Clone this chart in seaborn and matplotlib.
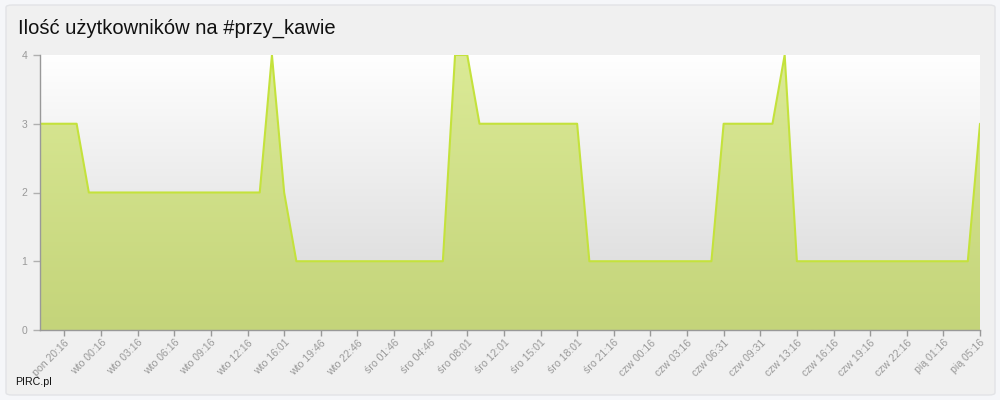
import numpy as np
import pandas as pd
import matplotlib
matplotlib.use("Agg")
import matplotlib.pyplot as plt
import seaborn as sns
from matplotlib.patches import FancyBboxPatch
from matplotlib.colors import LinearSegmentedColormap

# ---- data (hourly samples) ----
users = [3, 3, 3, 3,
         2, 2, 2, 2, 2, 2, 2, 2, 2, 2, 2, 2, 2, 2, 2,
         4, 2,
         1, 1, 1, 1, 1, 1, 1, 1, 1, 1, 1, 1, 1,
         4, 4,
         3, 3, 3, 3, 3, 3, 3, 3, 3,
         1, 1, 1, 1, 1, 1, 1, 1, 1, 1, 1,
         3, 3, 3, 3, 3,
         4,
         1, 1, 1, 1, 1, 1, 1, 1, 1, 1, 1, 1, 1, 1, 1,
         3]

tick_labels = ["pon 20:16", "wto 00:16", "wto 03:16", "wto 06:16", "wto 09:16",
               "wto 12:16", "wto 16:01", "wto 19:46", "wto 22:46", "śro 01:46",
               "śro 04:46", "śro 08:01", "śro 12:01", "śro 15:01", "śro 18:01",
               "śro 21:16", "czw 00:16", "czw 03:16", "czw 06:31", "czw 09:31",
               "czw 13:16", "czw 16:16", "czw 19:16", "czw 22:16", "pią 01:16",
               "pią 05:16"]
first_tick = 2
tick_step = 3
y_ticks = [0, 1, 2, 3, 4]

title = "Ilość użytkowników na #przy_kawie"
credit = "PIRC.pl"

df = pd.DataFrame({"sample": np.arange(len(users)), "users": users})
tick_pos = list(range(first_tick, len(users), tick_step))

# ---- style ----
sns.set_style("white")
plt.rcParams["font.family"] = ["Liberation Sans", "DejaVu Sans"]

LINE = "#c4e23c"
GRAY = "#999999"

fig = plt.figure(figsize=(10, 4), dpi=100)
fig.patch.set_facecolor("#f5f6f9")

panel = FancyBboxPatch((6 / 1000, 5 / 400), 989 / 1000, 390 / 400,
                       boxstyle="round,pad=0,rounding_size=0.006",
                       transform=fig.transFigure, facecolor="#f0f0f0",
                       edgecolor="#e2e3e6", linewidth=1.0, zorder=-10)
fig.patches.append(panel)

ax = fig.add_axes([0.040, 0.175, 0.940, 0.6875])
ax.set_zorder(1)
ax.set_facecolor("none")

# plot-area gradient background
bg = LinearSegmentedColormap.from_list("bg", ["#d6d6d6", "#ffffff"])
grad = np.linspace(0, 1, 256).reshape(-1, 1)
ax.imshow(grad, cmap=bg, origin="lower", aspect="auto",
          extent=[0, 1, 0, 1], transform=ax.transAxes, zorder=0)

# area fill with gradient, clipped to the data polygon
poly = ax.fill_between(df["sample"], df["users"], 0,
                       facecolor="none", edgecolor="none")
fillcm = LinearSegmentedColormap.from_list("fill", ["#c4d47a", "#dbea96"])
x0, x1 = df["sample"].min(), df["sample"].max()
im = ax.imshow(grad, cmap=fillcm, origin="lower", aspect="auto",
               extent=[x0, x1, 0, max(y_ticks)], zorder=1)
im.set_clip_path(poly.get_paths()[0], transform=ax.transData)

sns.lineplot(data=df, x="sample", y="users", ax=ax, color=LINE,
             linewidth=1.5, zorder=3)

ax.set_xlim(x0, x1)
ax.set_ylim(0, max(y_ticks))
ax.set_xlabel("")
ax.set_ylabel("")

ax.set_yticks(y_ticks)
ax.set_yticklabels([str(v) for v in y_ticks])
ax.set_xticks(tick_pos)
ax.set_xticklabels(tick_labels, rotation=45, ha="right", va="top",
                   rotation_mode="anchor")

ax.tick_params(axis="y", which="both", left=True, length=5, width=1,
               color="#b0b0b0", labelcolor=GRAY, labelsize=7.5, pad=4)
ax.tick_params(axis="x", which="both", bottom=True, length=4, width=1,
               color=GRAY, labelcolor=GRAY, labelsize=7.6, pad=1.5)

for side in ["top", "right"]:
    ax.spines[side].set_visible(False)
for side in ["left", "bottom"]:
    ax.spines[side].set_color(GRAY)
    ax.spines[side].set_linewidth(1.0)
    ax.spines[side].set_zorder(4)

fig.text(0.018, 0.916, title, fontsize=14.5, color="#111111",
         va="baseline", ha="left")
fig.text(0.0155, 0.0375, credit, fontsize=7.7, color="#111111",
         va="baseline", ha="left")

fig.savefig("out.png", dpi=100, facecolor=fig.get_facecolor())
